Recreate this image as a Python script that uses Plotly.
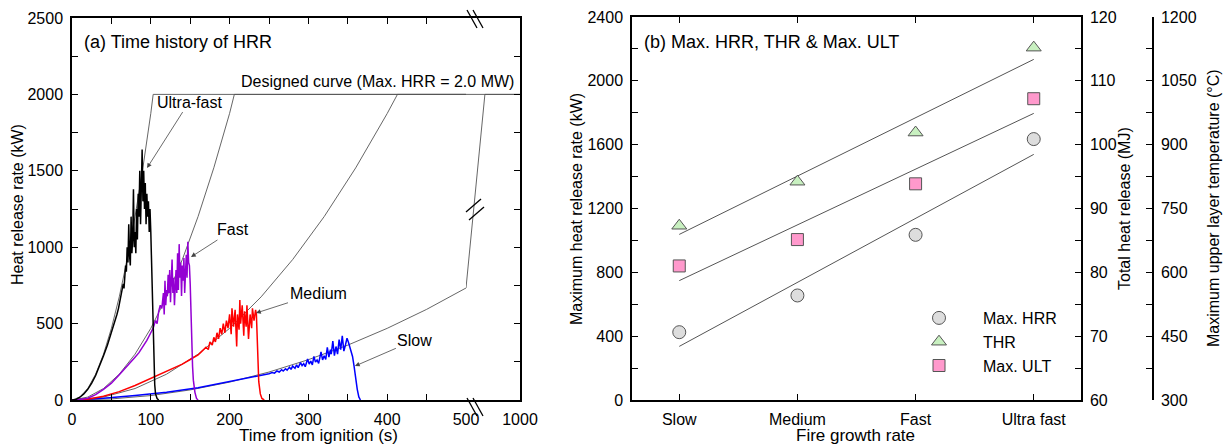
import numpy as np
import plotly.graph_objects as go

FONT = "Liberation Sans, Arial, sans-serif"
W, H = 1226, 444

# ---------------- Panel (a): measured HRR time histories ----------------
ultra_t = [0,5,10,15,20,25,30,35,40,45,50,53,55,57,59,61,63,65,66,67,68,69,70,71,72,73,74,75,76,77,78,79,80,81,82,83,84,85,86,87,88,89,90,91,92,93,94,95,96,97,98,99,100,101,102,103,104,105,106,108,110]
ultra_q = [0,4,18,40,70,110,160,220,290,360,440,490,530,560,600,650,700,760,730,820,880,840,1000,900,1150,950,880,1200,960,1050,1380,1000,1100,960,1250,1050,1350,1200,1500,1150,1400,1640,1300,1500,1250,1420,1150,1350,1200,1300,1100,1250,1100,900,650,400,220,100,40,10,0]

fast_t = [0,10,20,30,40,50,60,70,80,85,90,95,100,103,106,108,110,112,114,116,117,118,119,120,121,122,123,124,125,126,127,128,129,130,131,132,133,134,135,136,137,138,139,140,141,142,143,144,145,146,147,148,149,150,151,152,153,154,156,158,160]
fast_q = [0,3,12,35,70,110,165,220,280,310,350,390,440,470,520,500,580,620,600,700,560,780,620,720,680,820,700,850,640,780,920,700,800,620,760,850,700,960,720,1020,800,900,680,880,780,930,700,880,950,800,1035,900,880,760,550,350,220,130,50,10,0]

med_t = [0,20,40,60,80,100,120,140,150,160,165,170,173,175,178,180,182,184,186,188,190,192,194,196,198,200,202,203,205,207,209,210,212,213,214,216,218,219,221,222,224,226,228,229,231,233,234,235,236,237,239,241,244]
med_q = [0,5,25,55,95,140,185,235,265,295,320,345,330,380,360,410,380,440,400,470,430,500,440,520,470,560,430,600,480,590,350,560,460,655,500,620,420,580,480,620,400,560,470,600,520,590,560,420,250,120,40,10,0]

slow_t = [0,40,80,120,160,200,230,250,254,257,260,263,266,268,271,273,276,278,280,283,285,287,290,292,294,296,299,301,303,305,307,309,311,313,316,318,320,322,324,326,328,329,331,333,335,337,339,341,343,345,347,349,351,353,356,358,360,362,364,366]
slow_q = [0,12,30,50,80,120,150,172,180,176,190,183,198,190,205,195,215,200,222,208,230,212,245,225,238,218,268,235,255,230,285,248,262,240,315,262,290,265,345,280,330,300,385,290,350,300,395,330,420,320,360,405,375,340,285,220,140,70,20,0]

# designed curves
d_ultra_t = [0,10,20,30,40,50,60,70,80,90,100,103,500]
d_ultra_q = [0,19,75,169,300,469,675,919,1200,1520,1876,2000,2000]
d_fast_t = [0,20,40,60,80,100,120,140,160,180,200,206,500]
d_fast_q = [0,19,75,169,300,469,675,919,1201,1520,1876,2000,2000]
d_med_t = [0,40,80,120,160,200,240,280,320,360,400,413,500]
d_med_q = [0,19,75,169,300,469,675,919,1200,1519,1875,2000,2000]
d_slow_t = [0,50,100,150,200,250,300,350,400,450,500]
d_slow_q = [0,7,29,66,117,183,264,359,469,593,733]
# part beyond the axis break (500 -> 1000 s)
d_tail_t = [500,675,1000]
d_tail_q = [733,2000,2000]
d_flat_t = [500,1000]
d_flat_q = [2000,2000]

x_ticks_a = [0,100,200,300,400,500]

# ---------------- Panel (b) ----------------
categories = ["Slow", "Medium", "Fast", "Ultra fast"]
max_hrr = [425, 655, 1035, 1635]      # kW
thr = [87.3, 94.2, 101.9, 115.2]      # MJ
max_ult = [615, 677, 808, 1008]       # deg C

def px(x):
    return x / W

def py(y):
    return 1 - y / H

fig = go.Figure()

thin = dict(color="#555555", width=0.9)
for t, q in [(d_ultra_t, d_ultra_q), (d_fast_t, d_fast_q), (d_med_t, d_med_q), (d_slow_t, d_slow_q)]:
    fig.add_trace(go.Scatter(x=t, y=q, mode="lines", line=thin, xaxis="x", yaxis="y",
                             showlegend=False, hoverinfo="skip"))
for t, q in [(d_flat_t, d_flat_q), (d_tail_t, d_tail_q)]:
    fig.add_trace(go.Scatter(x=t, y=q, mode="lines", line=thin, xaxis="x3", yaxis="y5",
                             showlegend=False, hoverinfo="skip"))

for t, q, c in [(slow_t, slow_q, "#0000FF"), (med_t, med_q, "#FF0000"),
                (fast_t, fast_q, "#9400D3"), (ultra_t, ultra_q, "#000000")]:
    fig.add_trace(go.Scatter(x=t, y=q, mode="lines", line=dict(color=c, width=1.5),
                             xaxis="x", yaxis="y", showlegend=False))

# trend lines (least squares fits of the plotted points)
xi = np.arange(len(categories))
xe = np.array([0, len(categories) - 1])
for vals, ax in [(max_hrr, "y2"), (thr, "y3"), (max_ult, "y4")]:
    k, b = np.polyfit(xi, vals, 1)
    fig.add_trace(go.Scatter(x=xe, y=k * xe + b, mode="lines", line=dict(color="#555555", width=1),
                             xaxis="x2", yaxis=ax, showlegend=False, hoverinfo="skip"))

mk_line = dict(color="#555555", width=1)
fig.add_trace(go.Scatter(x=xi, y=max_hrr, mode="markers", name="Max. HRR", xaxis="x2", yaxis="y2",
                         marker=dict(symbol="circle", size=13, color="#DDDDDD", line=mk_line)))
fig.add_trace(go.Scatter(x=xi, y=thr, mode="markers", name="THR", xaxis="x2", yaxis="y3",
                         marker=dict(symbol="triangle-up", size=13, color="#C8F0C0", line=mk_line)))
fig.add_trace(go.Scatter(x=xi, y=max_ult, mode="markers", name="Max. ULT", xaxis="x2", yaxis="y4",
                         marker=dict(symbol="square", size=12, color="#FF99CC", line=mk_line)))

tickfont = dict(family=FONT, size=16, color="black")
base = dict(showline=True, linecolor="black", linewidth=1.5, ticks="inside", ticklen=6,
            tickwidth=1.2, tickcolor="black", showgrid=False, zeroline=False, tickfont=tickfont,
            automargin=False)
def minor(d):
    return dict(dtick=d, ticks="inside", ticklen=6, tickwidth=1.2, tickcolor="black", showgrid=False)

ydom_a = [py(400), py(18)]
ydom_b = [py(400), py(17)]

fig.update_layout(
    template="none",
    width=W, height=H, margin=dict(l=0, r=0, t=0, b=0, autoexpand=False),
    paper_bgcolor="white", plot_bgcolor="rgba(0,0,0,0)",
    font=dict(family=FONT, size=16, color="black"),
    xaxis=dict(base, domain=[px(72), px(466)], range=[0, 500], tickvals=x_ticks_a,
               minor=minor(50), mirror="ticks", anchor="y", ticklabelstandoff=4),
    xaxis3=dict(base, domain=[px(466), px(520)], range=[500, 1000], tickvals=[1000],
                ticktext=["1000"], mirror=True, anchor="y5", ticklabelstandoff=4),
    yaxis=dict(base, domain=ydom_a, range=[0, 2500], dtick=500, minor=minor(250),
               anchor="x", ticklabelstandoff=4),
    yaxis5=dict(base, domain=ydom_a, range=[0, 2500], dtick=250, showticklabels=False,
                anchor="x3", side="right"),
    xaxis2=dict(base, domain=[px(632), px(1081)], range=[-0.4, 3.4], tickvals=list(xi),
                ticktext=categories, mirror="ticks", anchor="y2", ticklabelstandoff=4),
    yaxis2=dict(base, domain=ydom_b, range=[0, 2400], dtick=400, minor=minor(200),
                anchor="x2", ticklabelstandoff=4),
    yaxis3=dict(base, range=[60, 120], dtick=10, minor=minor(5), overlaying="y2",
                side="right", anchor="x2", ticklabelstandoff=4),
    yaxis4=dict(base, range=[300, 1200], dtick=150, minor=minor(75), overlaying="y2",
                side="right", anchor="free", position=px(1153), ticklabelstandoff=4),
    legend=dict(x=px(895), y=py(301), xanchor="left", yanchor="top", itemwidth=78,
                font=dict(family=FONT, size=16), bgcolor="rgba(0,0,0,0)", tracegroupgap=0),
)

ann = []
def text(x, y, s, size=16, angle=0, xa="center", ya="middle"):
    ann.append(dict(x=px(x), y=py(y), xref="paper", yref="paper", text=s, showarrow=False,
                    font=dict(family=FONT, size=size, color="black"), textangle=angle,
                    xanchor=xa, yanchor=ya))

text(82, 42, "(a) Time history of HRR", 18, xa="left")
text(642, 42, "(b) Max. HRR, THR &amp; Max. ULT", 18, xa="left")
text(516, 92, "Designed curve (Max. HRR = 2.0 MW)", 16, xa="right", ya="bottom")
text(318, 435, "Time from ignition (s)", 17)
text(855, 435, "Fire growth rate", 17)
text(17, 205, "Heat release rate (kW)", 16, angle=-90)
text(577, 209, "Maximum heat release rate (kW)", 16, angle=-90)
text(1125, 209, "Total heat release (MJ)", 16, angle=-90)
text(1213, 208, "Maximum upper layer temperature (°C)", 16, angle=-90)

for lbl, t, q, ax_, ay_ in [("Ultra-fast", 95.2, 1518, 42, -66), ("Fast", 151, 936, 42, -27),
                            ("Medium", 233.5, 569, 62, -20), ("Slow", 359, 222, 60, -26)]:
    ann.append(dict(x=t, y=q, xref="x", yref="y", text=lbl, showarrow=True, ax=ax_, ay=ay_,
                    arrowhead=2, arrowsize=1.2, arrowwidth=0.8, arrowcolor="#444444",
                    font=dict(family=FONT, size=16, color="black")))
fig.update_layout(annotations=ann)

# axis-break marks
shapes = []
def seg(x0, y0, x1, y1):
    shapes.append(dict(type="line", xref="paper", yref="paper", x0=px(x0), y0=py(y0),
                       x1=px(x1), y1=py(y1), line=dict(color="black", width=1.3)))
for yb in (0, 388):
    seg(467, 10 + yb, 477, 28 + yb)
    seg(473, 10 + yb, 483, 28 + yb)
seg(466, 212, 481, 199)
seg(469, 220, 484, 207)
fig.update_layout(shapes=shapes)

fig.write_html("out.html", config={"displayModeBar": False},
               post_script="document.body.style.margin='0px';document.body.style.padding='0px';")
